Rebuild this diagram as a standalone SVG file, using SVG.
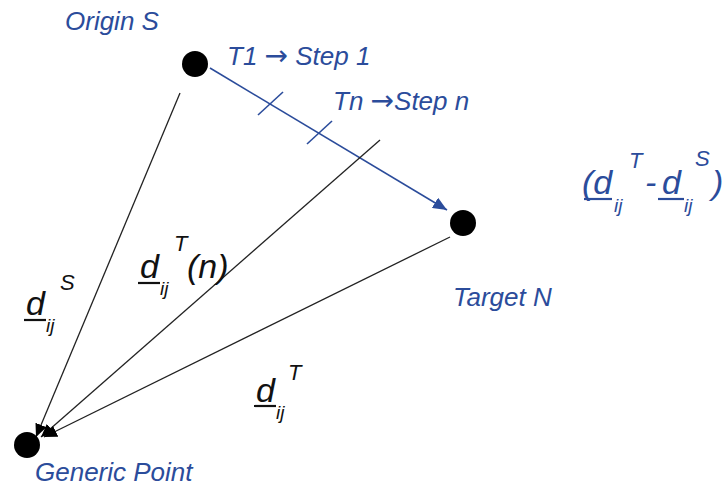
<svg xmlns="http://www.w3.org/2000/svg" width="726" height="488" viewBox="0 0 726 488">
<style>
.lbl{font-family:"Liberation Sans",Arial,sans-serif;font-style:italic;fill:#2B4C9B;font-size:26px}
.arr{font-family:"DejaVu Sans",sans-serif;font-style:normal;font-size:28px}
.m{font-family:"Liberation Sans",Arial,sans-serif;font-style:italic;fill:#111}
.mb{font-family:"Liberation Sans",Arial,sans-serif;font-style:italic;fill:#2B4C9B}
.big{font-size:34px}
.sub{font-size:19px}
.sup{font-size:22px}
.ln{stroke:#222;stroke-width:1.3;fill:none}
.bl{stroke:#2B4C9B;stroke-width:1.6;fill:none}
.ul{stroke:#111;stroke-width:2.2}
.ulb{stroke:#2B4C9B;stroke-width:2.2}
.node{fill:#000}
</style>
<defs>
<marker id="ak" markerWidth="14" markerHeight="12" refX="13" refY="6" orient="auto" markerUnits="userSpaceOnUse">
<path d="M0,0 L13,6 L0,12 Z" fill="#000"/>
</marker>
<marker id="ab" markerWidth="15" markerHeight="12" refX="14" refY="6" orient="auto" markerUnits="userSpaceOnUse">
<path d="M0,0 L14,6 L0,12 Z" fill="#2B4C9B"/>
</marker>
</defs>
<rect width="726" height="488" fill="#fff"/>
<g id="connectors">
<line class="bl" x1="210" y1="68" x2="447" y2="210" marker-end="url(#ab)"/>
<line class="bl" x1="258" y1="115" x2="283" y2="92"/>
<line class="bl" x1="307" y1="144" x2="332" y2="121"/>
<line class="ln" x1="180" y1="93" x2="36" y2="437" marker-end="url(#ak)"/>
<line class="ln" x1="380" y1="140" x2="41" y2="437" marker-end="url(#ak)"/>
<line class="ln" x1="450" y1="237" x2="44" y2="437" marker-end="url(#ak)"/>
</g>
<g id="origin">
<circle class="node" cx="195" cy="64" r="13"/>
<text class="lbl" x="65" y="30">Origin S</text>
</g>
<g id="target">
<circle class="node" cx="463" cy="223" r="13"/>
<text class="lbl" x="453" y="306">Target N</text>
</g>
<g id="generic">
<circle class="node" cx="27" cy="445" r="13"/>
<text class="lbl" x="35" y="481">Generic Point</text>
</g>
<g id="step-labels">
<text class="lbl" x="227" y="65">T1 <tspan class="arr">→</tspan> Step 1</text>
<text class="lbl" x="333" y="110">Tn <tspan class="arr">→</tspan>Step n</text>
</g>
<g id="label-dS">
<text class="m big" x="26" y="315">d</text>
<line class="ul" x1="24" y1="320" x2="46" y2="320"/>
<text class="m sub" x="46" y="332">ij</text>
<text class="m sup" x="60" y="290">S</text>
</g>
<g id="label-dTn">
<text class="m big" x="140" y="278">d</text>
<line class="ul" x1="138" y1="283" x2="160" y2="283"/>
<text class="m sub" x="160" y="295">ij</text>
<text class="m sup" x="174" y="251">T</text>
<text class="m big" x="187" y="278">(n)</text>
</g>
<g id="label-dT">
<text class="m big" x="256" y="402">d</text>
<line class="ul" x1="254" y1="406" x2="276" y2="406"/>
<text class="m sub" x="276" y="419">ij</text>
<text class="m sup" x="288" y="380">T</text>
</g>
<g id="label-diff">
<text class="mb big" x="582" y="194">(d</text>
<line class="ulb" x1="584" y1="199" x2="612" y2="199"/>
<text class="mb sub" x="614" y="212">ij</text>
<text class="mb sup" x="629" y="168">T</text>
<text class="mb big" x="645" y="194">-</text>
<text class="mb big" x="662" y="194">d</text>
<line class="ulb" x1="658" y1="199" x2="684" y2="199"/>
<text class="mb sub" x="684" y="212">ij</text>
<text class="mb sup" x="695" y="166">S</text>
<text class="mb big" x="712" y="194">)</text>
</g>
</svg>
